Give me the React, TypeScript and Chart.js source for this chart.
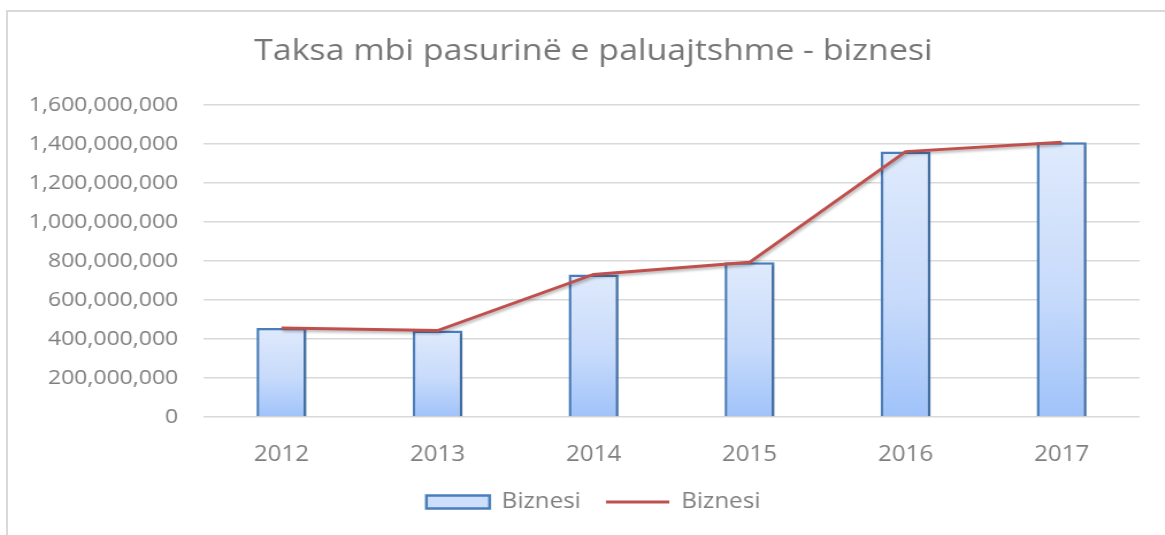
import React, { useEffect, useRef } from 'react';
import { Chart, registerables } from 'chart.js';

Chart.register(...registerables);

const titleText = 'Taksa mbi pasurinë e paluajtshme - biznesi';
const years = ['2012', '2013', '2014', '2015', '2016', '2017'];
const barLabel = 'Biznesi';
const lineLabel = 'Biznesi';
const barValues = [456e6, 443e6, 731e6, 793e6, 1361e6, 1409e6];
const lineValues = [456e6, 443e6, 731e6, 793e6, 1361e6, 1409e6];
const yTickMin = 0;
const yTickMax = 1.6e9;
const yTickStep = 2e8;

const FONT = "'Open Sans', 'DejaVu Sans', sans-serif";
const SX = 1.15;
const W = 1018;
const H = 560;

const shadowPlugin = {
  id: 'softShadow',
  beforeDatasetDraw(chart: any, args: any) {
    const ctx = chart.ctx;
    ctx.save();
    if (args.index === 1) {
      ctx.shadowColor = 'rgba(0,0,0,0.3)';
      ctx.shadowBlur = 3;
      ctx.shadowOffsetX = 1;
      ctx.shadowOffsetY = 2;
    } else {
      ctx.shadowColor = 'rgba(0,0,0,0.18)';
      ctx.shadowBlur = 2;
      ctx.shadowOffsetX = 2;
      ctx.shadowOffsetY = 1;
    }
  },
  afterDatasetDraw(chart: any) {
    chart.ctx.restore();
  },
};

export default function App() {
  const ref = useRef<HTMLCanvasElement>(null);

  useEffect(() => {
    if (!ref.current) return;
    const chart = new Chart(ref.current, {
      type: 'bar',
      data: {
        labels: years,
        datasets: [
          {
            type: 'bar',
            label: barLabel,
            data: barValues,
            order: 1,
            backgroundColor: (c: any) => {
              const ch = c.chart;
              if (!ch.chartArea || c.type !== 'data' || !ch.scales.y) return '#c9dcfa';
              const ys = ch.scales.y;
              const top = ys.getPixelForValue(c.raw);
              const bottom = ys.getPixelForValue(0);
              if (!isFinite(top) || !isFinite(bottom) || top === bottom) return '#c9dcfa';
              const g = ch.ctx.createLinearGradient(0, top, 0, bottom);
              g.addColorStop(0, '#dfeafc');
              g.addColorStop(0.55, '#c8dbfb');
              g.addColorStop(1, '#a0c3fa');
              return g;
            },
            borderColor: '#4a7ebb',
            borderWidth: 2.5,
            categoryPercentage: 1,
            barPercentage: 0.32,
            pointStyle: 'rect',
          } as any,
          {
            type: 'line',
            label: lineLabel,
            data: lineValues,
            order: 0,
            borderColor: '#c0504d',
            backgroundColor: '#c0504d',
            borderWidth: 3,
            pointRadius: 0,
            pointHoverRadius: 0,
            pointStyle: 'line',
            fill: false,
            tension: 0,
          } as any,
        ],
      },
      options: {
        animation: false,
        responsive: false,
        devicePixelRatio: 1,
        layout: { padding: { left: 0, right: 0, top: 0, bottom: 49.5 } },
        plugins: {
          title: {
            display: true,
            text: titleText,
            color: '#767676',
            font: { family: FONT, size: 29.5, weight: 'normal' },
            padding: { top: 22.3, bottom: 35.3 },
          },
          legend: {
            position: 'bottom',
            labels: {
              color: '#7f7f7f',
              font: { family: FONT, size: 21 },
              usePointStyle: true,
              pointStyleWidth: 55,
              boxHeight: 13,
              padding: 22,
              sort: (a: any, b: any) => a.datasetIndex - b.datasetIndex,
              generateLabels: (ch: any) => {
                const items = (Chart.defaults as any).plugins.legend.labels.generateLabels(ch);
                items.forEach((it: any) => {
                  if (it.datasetIndex === 0) {
                    it.fillStyle = '#cddffb';
                    it.strokeStyle = '#4a7ebb';
                    it.lineWidth = 2.5;
                  }
                });
                return items;
              },
            },
          },
          tooltip: { enabled: false },
        },
        scales: {
          x: {
            grid: { display: false },
            border: { display: false },
            ticks: { color: '#7f7f7f', font: { family: FONT, size: 21 }, padding: 17 },
            afterFit: (s: any) => {
              s.height = 52.5;
            },
          },
          y: {
            min: yTickMin,
            max: yTickMax,
            border: { display: false },
            grid: { color: '#d9d9d9', lineWidth: 1.5, drawTicks: false },
            ticks: {
              stepSize: yTickStep,
              color: '#7f7f7f',
              font: { family: FONT, size: 20 },
              padding: 22,
              callback: (v: any) => Number(v).toLocaleString('en-US'),
            },
            afterFit: (s: any) => {
              s.width = 170;
            },
          },
          y2: {
            type: 'linear',
            position: 'right',
            display: true,
            grid: { display: false },
            border: { display: false },
            ticks: { display: false },
            afterFit: (s: any) => {
              s.width = 34;
            },
          },
        },
      } as any,
      plugins: [shadowPlugin],
    });
    return () => chart.destroy();
  }, []);

  return (
    <div
      style={{
        position: 'fixed',
        left: 0,
        top: 0,
        width: 1165,
        height: 535,
        overflow: 'hidden',
        background: '#ffffff',
      }}
    >
      <div
        style={{
          position: 'absolute',
          left: 6,
          top: 10,
          width: 1200,
          height: 600,
          border: '2px solid #d9d9d9',
          boxSizing: 'border-box',
          background: '#ffffff',
        }}
      >
        <div
          style={{
            position: 'absolute',
            left: 0,
            top: 0,
            transform: `scaleX(${SX})`,
            transformOrigin: '0 0',
          }}
        >
          <canvas ref={ref} width={W} height={H} style={{ display: 'block' }} />
        </div>
      </div>
    </div>
  );
}
